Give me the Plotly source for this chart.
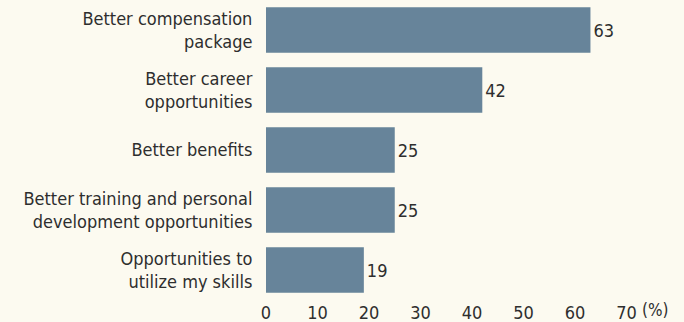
import plotly.graph_objects as go

# Survey answers (percent of respondents)
reasons = [
    "Better compensation<br>package",
    "Better career<br>opportunities",
    "Better benefits",
    "Better training and personal<br>development opportunities",
    "Opportunities to<br>utilize my skills",
]
shares = [63, 42, 25, 25, 19]
tick_values = [0, 10, 20, 30, 40, 50, 60, 70]
tick_labels = ["0", "10", "20", "30", "40", "50", "60", "70"]

FONT = "DejaVu Sans Condensed, Liberation Sans Narrow, Arial Narrow, sans-serif"
INK = "#2e2e2e"
BAR = "#67849a"
PAPER = "#fcfaf0"

fig = go.Figure(
    go.Bar(
        x=shares,
        y=reasons,
        orientation="h",
        marker=dict(color=BAR, line=dict(width=0)),
        width=0.76,
        text=[str(v) for v in shares],
        textposition="outside",
        textfont=dict(family=FONT, size=18, color=INK),
        cliponaxis=False,
    )
)

fig.update_layout(
    width=684,
    height=322,
    margin=dict(l=266, r=6, t=0, b=22),
    paper_bgcolor=PAPER,
    plot_bgcolor=PAPER,
    showlegend=False,
    font=dict(family=FONT, color=INK),
    xaxis=dict(
        range=[0, 80],
        tickvals=tick_values,
        ticktext=tick_labels,
        showgrid=False,
        zeroline=False,
        showline=False,
        ticks="",
        tickfont=dict(family=FONT, size=18, color=INK),
    ),
    yaxis=dict(
        autorange="reversed",
        showgrid=False,
        zeroline=False,
        showline=False,
        ticks="outside",
        ticklen=9,
        tickcolor="rgba(0,0,0,0)",
        tickfont=dict(family=FONT, size=18, color=INK),
    ),
)

# unit marker next to the last tick
fig.add_annotation(
    x=70, y=0, xref="x", yref="paper",
    text="(%)", showarrow=False,
    xanchor="left", yanchor="middle", xshift=14, yshift=-10,
    borderpad=0,
    font=dict(family=FONT, size=17, color=INK),
)

fig.write_html("out.html")
